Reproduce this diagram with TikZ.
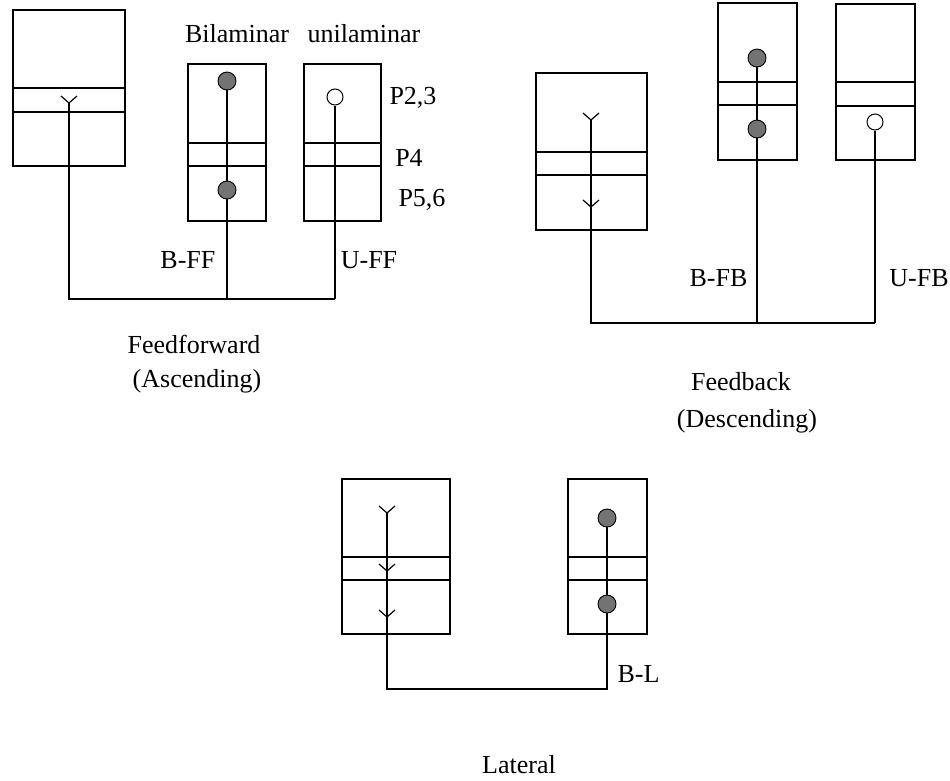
\documentclass[tikz,border=0pt]{standalone}
\usepackage{fontspec}
\setmainfont{Liberation Serif}
\begin{document}
\begin{tikzpicture}[x=1pt,y=-1pt, line width=1.2pt,
  fcirc/.style={circle, draw, fill=black!55, minimum size=18pt, inner sep=0pt, line width=0.9pt},
  ocirc/.style={circle, draw, fill=white, minimum size=16pt, inner sep=0pt, line width=1pt},
  lbl/.style={font=\fontsize{26}{31}\selectfont, anchor=base, inner sep=0pt},
  captxt/.style={font=\fontsize{26}{31}\selectfont, anchor=base, inner sep=0pt},
  veemark/.pic={\draw (-8,-7) -- (0,0) -- (8,-7);}]
\useasboundingbox (0,0) rectangle (950,780);

% ---------- Feedforward ----------
\draw (13,10) rectangle (125,166); \draw (13,88) -- (125,88); \draw (13,112) -- (125,112);
\draw (188,64) rectangle (266,221); \draw (188,143) -- (266,143); \draw (188,166) -- (266,166);
\draw (304,64) rectangle (381,221); \draw (304,143) -- (381,143); \draw (304,166) -- (381,166);

\coordinate (ffA) at (69,103);
\coordinate (ffB1) at (227,81);
\coordinate (ffB2) at (227,190);
\coordinate (ffC) at (335,97);
\coordinate (ffjA) at (69,299);
\coordinate (ffjB) at (227,299);
\coordinate (ffjC) at (335,299);

\pic at (ffA) {veemark};
\draw (ffA) -- (ffjA) -- (ffjB) -- (ffjC);
\draw (ffB1) -- (ffjB);
\node[fcirc] (nffB1) at (ffB1) {};
\node[fcirc] (nffB2) at (ffB2) {};
\node[ocirc] (nffC) at (ffC) {};
\draw (nffC.south) -- (ffjC);

\node[lbl] (tBil) at (237,42) {Bilaminar};
\node[lbl] (tUni) at (364,42) {unilaminar};
\node[lbl] (tP23) at (413,104) {P2,3};
\node[lbl] (tP4) at (409,166) {P4};
\node[lbl] (tP56) at (422,206) {P5,6};
\node[lbl, anchor=base east] (tBFF) at (216,268) {B-FF};
\node[lbl] (tUFF) at (369,268) {U-FF};
\node[captxt] (tFF1) at (194,353) {Feedforward};
\node[captxt] (tFF2) at (197,387) {(Ascending)};

% ---------- Feedback ----------
\draw (536,73) rectangle (647,230); \draw (536,152) -- (647,152); \draw (536,175) -- (647,175);
\draw (718,3) rectangle (797,160); \draw (718,82) -- (797,82); \draw (718,105) -- (797,105);
\draw (836,4) rectangle (915,160); \draw (836,82) -- (915,82); \draw (836,106) -- (915,106);

\coordinate (fbD1) at (591,120);
\coordinate (fbD2) at (591,207);
\coordinate (fbE1) at (757,58);
\coordinate (fbE2) at (757,129);
\coordinate (fbF) at (875,122);
\coordinate (fbjD) at (591,323);
\coordinate (fbjE) at (757,323);
\coordinate (fbjF) at (875,323);

\pic at (fbD1) {veemark};
\pic at (fbD2) {veemark};
\draw (fbD1) -- (fbjD) -- (fbjE) -- (fbjF);
\draw (fbE1) -- (fbjE);
\node[fcirc] (nfbE1) at (fbE1) {};
\node[fcirc] (nfbE2) at (fbE2) {};
\node[ocirc] (nfbF) at (fbF) {};
\draw (nfbF.south) -- (fbjF);

\node[lbl, anchor=base east] (tBFB) at (748,286) {B-FB};
\node[lbl] (tUFB) at (919,286) {U-FB};
\node[captxt] (tFB1) at (741,390) {Feedback};
\node[captxt] (tFB2) at (747,427) {(Descending)};

% ---------- Lateral ----------
\draw (342,479) rectangle (450,634); \draw (342,557) -- (450,557); \draw (342,580) -- (450,580);
\draw (568,479) rectangle (647,634); \draw (568,557) -- (647,557); \draw (568,580) -- (647,580);

\coordinate (lG1) at (387,513);
\coordinate (lG2) at (387,571);
\coordinate (lG3) at (387,617);
\coordinate (lH1) at (607,518);
\coordinate (lH2) at (607,604);
\coordinate (ljG) at (387,689);
\coordinate (ljH) at (607,689);

\pic at (lG1) {veemark};
\pic at (lG2) {veemark};
\pic at (lG3) {veemark};
\draw (lG1) -- (ljG) -- (ljH) -- (lH1);
\node[fcirc] (nlH1) at (lH1) {};
\node[fcirc] (nlH2) at (lH2) {};

\node[lbl, anchor=base west] (tBL) at (617,682) {B-L};
\node[captxt] (tLat) at (519,773) {Lateral};
\end{tikzpicture}
\end{document}
